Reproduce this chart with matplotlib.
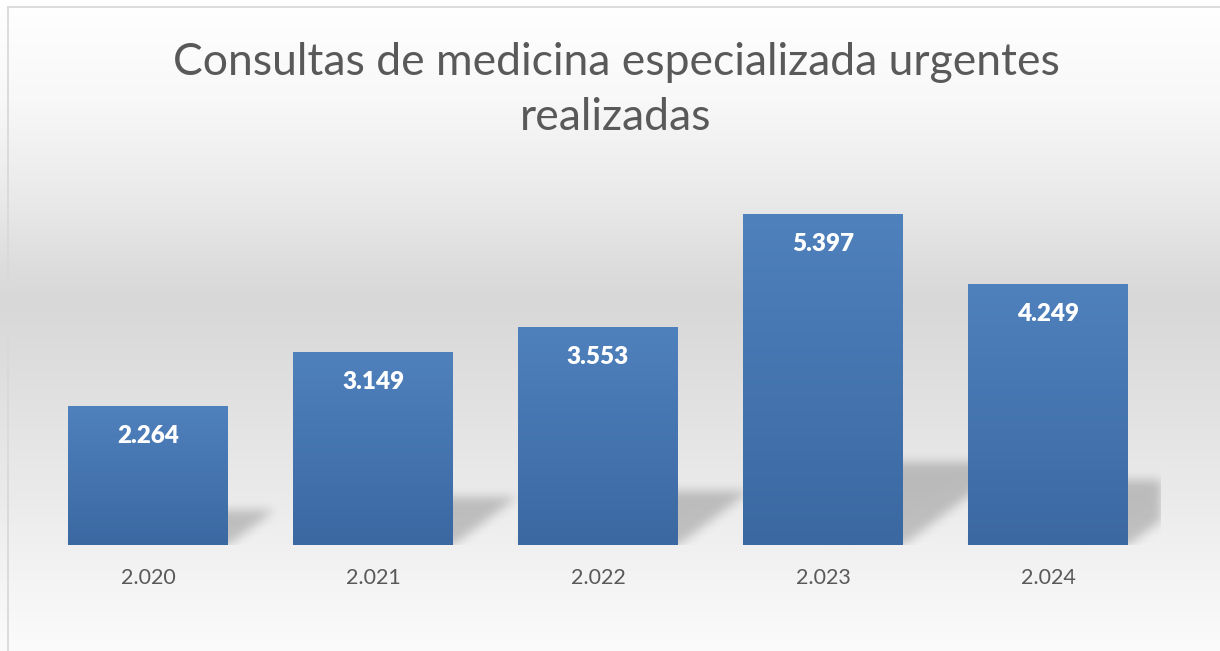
import matplotlib
matplotlib.use("Agg")
import matplotlib.pyplot as plt
import numpy as np
from matplotlib.colors import LinearSegmentedColormap
from matplotlib.lines import Line2D

# datos
anios = ['2.020', '2.021', '2.022', '2.023', '2.024']
valores = [2264, 3149, 3553, 5397, 4249]
etiquetas = ['2.264', '3.149', '3.553', '5.397', '4.249']
titulo = 'Consultas de medicina especializada urgentes\nrealizadas'

FW, FH = 1220, 651
fig = plt.figure(figsize=(FW / 100, FH / 100), dpi=100)
plt.rcParams['font.family'] = ['Lato', 'DejaVu Sans']

# fondo degradado
bg = fig.add_axes([0, 0, 1, 1], zorder=-5)
pos_y = [0, 100, 200, 270, 300, 350, 400, 500, 560, 651]
gris = [255, 248, 233, 220, 216, 220, 225, 235, 242, 251]
col = np.interp(np.arange(FH), pos_y, gris) / 255.0
img = np.repeat(col[:, None], 2, axis=1)
rgb = np.dstack([img, img, img])
bg.imshow(rgb, aspect='auto', extent=(0, 1, 0, 1), origin='upper')
bg.set_xlim(0, 1)
bg.set_ylim(0, 1)
bg.axis('off')

# borde
bc = '#d9d9d9'
fig.add_artist(Line2D([7.5 / FW, 7.5 / FW], [0, 1 - 6.5 / FH], color=bc, lw=1.3))
fig.add_artist(Line2D([7.5 / FW, 1], [1 - 6.5 / FH, 1 - 6.5 / FH], color=bc, lw=1.3))

# area del grafico
left, right, base, top = 35.5, 1160.5, 545, 180
ymax = (base - top) * 5397 / 331.0
ax = fig.add_axes([left / FW, (FH - base) / FH, (right - left) / FW, (base - top) / FH])
ax.set_facecolor('none')
ax.set_xlim(-0.5, 4.5)
ax.set_ylim(0, ymax)
for s in ax.spines.values():
    s.set_visible(False)
ax.set_yticks([])
ax.set_xticks([])

x = np.arange(len(anios))
ancho = 160 / 225.0

# sombras
W, H = int(right - left), int(base - top)
px = np.arange(W) + 0.5
py = np.arange(H) + 0.5
PX, PY = np.meshgrid(px, py)
mask = np.zeros((H, W))
for i, v in enumerate(valores):
    x0 = (x[i] - ancho / 2 + 0.5) * 225
    x1 = (x[i] + ancho / 2 + 0.5) * 225
    hp = v * H / ymax
    alto = 0.25 * hp
    desp = PY * 1.32
    m = (PY <= alto) & (PX >= x0 + desp) & (PX <= x1 + desp)
    mask[m] = 1.0

def suavizar(a, sig):
    k = np.arange(-3 * sig, 3 * sig + 1)
    k = np.exp(-k ** 2 / (2 * sig ** 2))
    k = k / k.sum()
    a = np.apply_along_axis(lambda r: np.convolve(r, k, mode='same'), 1, a)
    a = np.apply_along_axis(lambda c: np.convolve(c, k, mode='same'), 0, a)
    return a

mask = suavizar(mask, 5)
sombra = np.zeros((H, W, 4))
sombra[..., 3] = mask * 0.2
ax.imshow(sombra, origin='lower', extent=(-0.5, 4.5, 0, ymax), aspect='auto', zorder=1)

# barras con degradado
cmap = LinearSegmentedColormap.from_list('azul', ['#3b68a1', '#4f81bd'])
barras = ax.bar(x, valores, width=ancho, color='#4a7ab5', zorder=2)
for b in barras:
    g = np.linspace(0, 1, 256)[:, None]
    im = ax.imshow(g, cmap=cmap, origin='lower', aspect='auto', zorder=3,
                   extent=(b.get_x(), b.get_x() + b.get_width(), 0, b.get_height()))
    im.set_clip_path(b)

ax.set_xlim(-0.5, 4.5)
ax.set_ylim(0, ymax)

# etiquetas de datos
for i, v in enumerate(valores):
    ax.annotate(etiquetas[i], (x[i], v), xytext=(0, -30 * 0.72), textcoords='offset points',
                ha='center', va='center', color='white', fontsize=17.5, fontweight='heavy', zorder=5)

# etiquetas del eje
for i, a in enumerate(anios):
    ax.annotate(a, (x[i], 0), xytext=(0, -33 * 0.72), textcoords='offset points',
                ha='center', va='center', color='#595959', fontsize=15.5, annotation_clip=False)

fig.text(616 / FW, 1 - 90 / FH, titulo, ha='center', va='center', fontsize=32,
         color='#595959', linespacing=1.45)

fig.savefig('out.png', dpi=100)
